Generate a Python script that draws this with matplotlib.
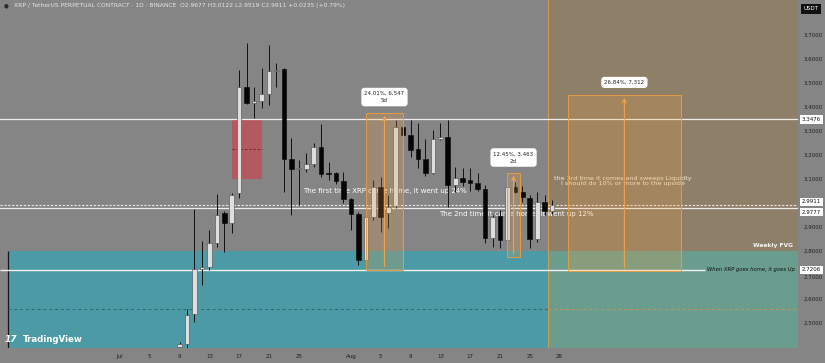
import matplotlib
matplotlib.use("Agg")
import matplotlib.pyplot as plt
from matplotlib.patches import Rectangle
from matplotlib.transforms import blended_transform_factory

# x = day index, 0 = Jul 1
days = list(range(8, 59))
opens = [2.400, 2.410, 2.537, 2.725, 2.733, 2.833, 2.958, 2.916, 3.041, 3.483,
         3.416, 3.425, 3.454, 3.550, 3.558, 3.183, 3.141, 3.141, 3.162, 3.233,
         3.125, 3.125, 3.091, 3.016, 2.954, 2.762, 2.941, 3.066, 2.958, 2.987,
         3.316, 3.283, 3.225, 3.183, 3.125, 3.266, 3.275, 3.075, 3.104, 3.096,
         3.083, 3.058, 2.854, 2.946, 2.846, 3.066, 3.046, 3.021, 2.850, 3.004,
         2.9677]
highs = [2.420, 2.558, 2.975, 2.841, 2.887, 3.037, 2.966, 3.040, 3.554, 3.666,
         3.483, 3.562, 3.658, 3.583, 3.560, 3.271, 3.179, 3.208, 3.250, 3.329,
         3.171, 3.130, 3.129, 3.020, 2.960, 2.979, 3.096, 3.108, 3.033, 3.346,
         3.346, 3.346, 3.333, 3.266, 3.304, 3.333, 3.346, 3.150, 3.146, 3.146,
         3.125, 3.075, 2.950, 2.971, 3.087, 3.087, 3.071, 3.033, 3.046, 3.033,
         3.0122]
lows = [2.390, 2.395, 2.504, 2.658, 2.721, 2.816, 2.796, 2.875, 3.020, 3.410,
        3.354, 3.396, 3.408, 3.483, 3.046, 2.950, 2.991, 3.130, 3.150, 3.108,
        3.096, 3.080, 3.000, 2.887, 2.741, 2.725, 2.930, 2.879, 2.896, 2.980,
        3.270, 3.191, 3.146, 3.110, 3.120, 3.262, 2.983, 3.046, 3.070, 3.050,
        3.050, 2.833, 2.816, 2.812, 2.783, 3.040, 3.004, 2.812, 2.837, 2.950,
        2.9519]
closes = [2.410, 2.533, 2.725, 2.733, 2.833, 2.950, 2.916, 3.033, 3.483, 3.416,
          3.425, 3.454, 3.550, 3.554, 3.183, 3.141, 3.146, 3.162, 3.233, 3.121,
          3.121, 3.091, 3.016, 2.954, 2.762, 2.941, 3.066, 2.941, 2.983, 3.316,
          3.283, 3.221, 3.183, 3.125, 3.266, 3.275, 3.075, 3.104, 3.087, 3.083,
          3.058, 2.854, 2.941, 2.846, 3.066, 3.046, 3.025, 2.850, 3.004, 2.966,
          2.9911]

tick_days = [0, 4, 8, 12, 16, 20, 24, 31, 35, 39, 43, 47, 51, 55, 59]
tick_labels = ["Jul", "5", "9", "13", "17", "21", "25", "Aug", "5", "9", "13",
               "17", "21", "25", "28"]
price_ticks = [2.5, 2.6, 2.7, 2.8, 2.9, 3.0, 3.1, 3.2, 3.3, 3.4, 3.5, 3.6, 3.7]

# key levels
level_top = 3.3476
level_last = 2.9911
level_prev = 2.9777
level_home = 2.7206
fvg_top = 2.80
fvg_mid = 2.558

# measure boxes: (x0, x1, low, high, label, label y)
measures = [(33.0, 38.0, 2.722, 3.375, "24.01%, 6,547\n5d", 3.441),
            (51.95, 53.7, 2.775, 3.125, "12.45%, 3,463\n2d", 3.189),
            (60.1, 75.3, 2.716, 3.450, "26.84%, 7,312", 3.502)]

BG = "#858585"
xmin, xmax = -16.1, 91.0
ymin, ymax = 2.395, 3.8455

fig = plt.figure(figsize=(8.25, 3.63), dpi=100, facecolor=BG)
ax = fig.add_axes([0, 15 / 363, 798 / 825, 348 / 363])
ax.set_facecolor(BG)
ax.set_xlim(xmin, xmax)
ax.set_ylim(ymin, ymax)
for s in ax.spines.values():
    s.set_visible(False)

# zones
zone_x = 57.45
ax.add_patch(Rectangle((zone_x, ymin), xmax - zone_x, ymax - ymin, color="#8e7f69", lw=0, zorder=0))
ax.add_patch(Rectangle((-15, ymin), xmax + 15, fvg_top - ymin, color="#4b9aa6", lw=0, zorder=0.5))
ax.add_patch(Rectangle((zone_x, ymin), xmax - zone_x, fvg_top - ymin, color="#6b9d8e", lw=0, zorder=0.6))
ax.vlines(-15, ymin, fvg_top, color="#151515", lw=0.9, zorder=1)
ax.hlines(fvg_mid, -15, zone_x, color="#2d6770", lw=0.7, ls=(0, (3, 3)), zorder=1)
ax.hlines(fvg_mid, zone_x, xmax, color="#c7935a", lw=0.7, ls=(0, (3, 3)), zorder=1)
ax.axvline(zone_x, color="#d49a4c", lw=0.8, zorder=1)

# red order block
ax.add_patch(Rectangle((15.0, 3.100), 4.1, level_top - 3.100, color="#b4595f", lw=0, zorder=1))
ax.hlines(3.225, 15.0, 19.1, color="#6e2228", lw=0.6, ls=(0, (3, 2)), zorder=1.1)

# levels
ax.axhline(level_top, color="#eeeeee", lw=0.9, zorder=1.5)
ax.axhline(level_last, color="#eeeeee", lw=0.8, ls=(0, (2, 1.5)), zorder=1.5)
ax.axhline(level_prev, color="#eeeeee", lw=0.9, zorder=1.5)
ax.hlines(level_home, xmin, 78.5, color="#f2f2f2", lw=1.0, zorder=1.5)

# annotations
ax.text(35.6, 3.050, "The first time XRP came home, it went up 24%", color="white",
        fontsize=5, ha="center", va="center", zorder=2)
ax.text(53.2, 2.954, "The 2nd time it came home, it went up 12%", color="white",
        fontsize=5, ha="center", va="center", zorder=2)
ax.text(67.5, 3.090, "the 3rd time it comes and sweeps Liquidty\nI should do 10% or more to the upside",
        color="#f3ead9", fontsize=4.6, ha="center", va="center", linespacing=1.1, zorder=2)
ax.text(90.3, 2.823, "Weekly FVG", color="#f5f5f5", fontsize=4.3, ha="right", va="center",
        fontweight="bold", zorder=2)
ax.text(78.8, level_home, "When XRP goes home, it goes Up", color="#111111", fontsize=3.8,
        ha="left", va="center", style="italic", zorder=2)

# candles
for d, o, h, l, c in zip(days, opens, highs, lows, closes):
    up = c >= o
    ax.vlines(d, l, h, color="#111111", lw=0.7, zorder=3)
    ax.bar(d, max(abs(c - o), 0.003), bottom=min(o, c), width=0.62,
           color="#dedede" if up else "#050505",
           edgecolor="#4a4a4a" if up else "#050505", lw=0.4, zorder=4)

# measure boxes
for x0, x1, lo, hi, lab, ly in measures:
    ax.add_patch(Rectangle((x0, lo), x1 - x0, hi - lo, facecolor="#f0a040", alpha=0.22,
                           edgecolor="none", zorder=5))
    ax.add_patch(Rectangle((x0, lo), x1 - x0, hi - lo, facecolor="none",
                           edgecolor="#e59c42", lw=0.7, zorder=5))
    xm = (x0 + x1) / 2
    ax.annotate("", xy=(xm, hi), xytext=(xm, lo),
                arrowprops=dict(arrowstyle="->", color="#f0a24a", lw=0.8, mutation_scale=7),
                zorder=5)
    ax.text(xm, ly, lab, fontsize=4, color="#222222", ha="center", va="center",
            linespacing=1.6, zorder=6,
            bbox=dict(boxstyle="round,pad=0.55", fc="white", ec="none"))

# axes ticks
ax.yaxis.tick_right()
ax.set_yticks(price_ticks)
ax.set_yticklabels([f"{p:.4f}" for p in price_ticks])
ax.tick_params(axis="y", length=0, pad=4, labelsize=4, labelcolor="#1e1e1e")
ax.set_xticks(tick_days)
ax.set_xticklabels(tick_labels)
ax.tick_params(axis="x", length=0, pad=4, labelsize=4, labelcolor="#1e1e1e")
# the 2.7000 label sits partly under the 2.7206 box
for t in ax.get_yticklabels():
    if t.get_text() == "2.7000":
        t.set_y(2.700)
        t.set_va("top")

tr = blended_transform_factory(ax.transAxes, ax.transData)
offsets = {level_top: 0, level_last: 2.2, level_prev: -2.8, level_home: 0}
for lv, off in offsets.items():
    ax.annotate(f"{lv:.4f}", xy=(1.005, lv), xycoords=tr, xytext=(0, off),
                textcoords="offset points", fontsize=4, color="#111111",
                ha="left", va="center", zorder=7, annotation_clip=False,
                bbox=dict(boxstyle="square,pad=0.3", fc="white", ec="none"))

# header and branding
fig.text(14 / 825, 1 - 6 / 363,
         "XRP / TetherUS PERPETUAL CONTRACT · 1D · BINANCE  O2.9677 H3.0122 L2.9519 C2.9911 +0.0235 (+0.79%)",
         fontsize=4.3, color="#e6e6e6", va="center", ha="left")
fig.text(6 / 825, 1 - 6 / 363, "●", fontsize=4, color="#2a2a2a", va="center", ha="center")
fig.text(811 / 825, 1 - 9 / 363, "USDT", fontsize=4, color="white", va="center", ha="center",
         bbox=dict(boxstyle="square,pad=0.4", fc="#111111", ec="none"))
fig.text(5 / 825, 1 - 340 / 363, "17", fontsize=6.5, color="white", fontweight="bold",
         va="center", ha="left", style="italic")
fig.text(23 / 825, 1 - 340 / 363, "TradingView", fontsize=6.2, color="white", fontweight="bold",
         va="center", ha="left")

fig.savefig("out.png", dpi=100, facecolor=BG)
